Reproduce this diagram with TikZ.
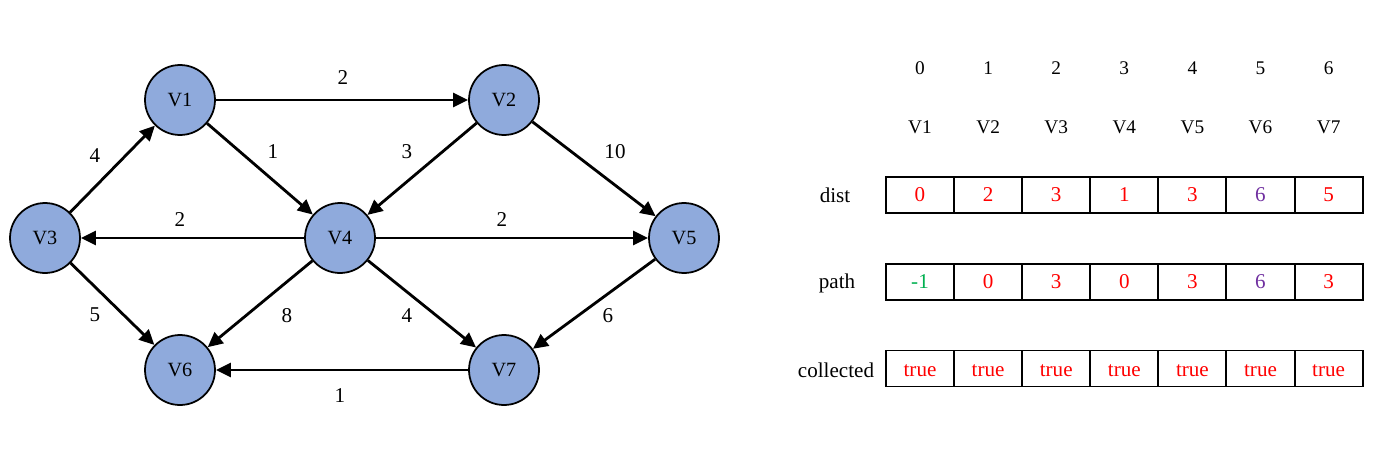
\documentclass[tikz,border=0pt]{standalone}
\usepackage{fontspec}
\setmainfont{Liberation Serif}
\usetikzlibrary{arrows.meta}
\definecolor{vfill}{HTML}{8FAADC}
\definecolor{vred}{HTML}{FF0000}
\definecolor{vpurple}{HTML}{7030A0}
\definecolor{vgreen}{HTML}{00B050}

\begin{document}
\begin{tikzpicture}[x=0.02cm,y=-0.02cm,font=\fontsize{11}{13}\selectfont,
    vertex/.style={circle,draw=black,line width=1pt,fill=vfill,minimum size=1.4cm,inner sep=0pt,font=\fontsize{11.5}{13}\selectfont},
    arc/.style={line width=1.6pt,-{Triangle[length=0.3cm,width=0.28cm]}},
    weight/.style={font=\fontsize{12}{14}\selectfont},
    cell/.style={draw=black,line width=1.1pt,minimum width=1.362cm,minimum height=0.72cm,inner sep=0pt,font=\fontsize{12}{14}\selectfont},
    flagcell/.style={cell,text=vred,text height=9.5pt,text depth=0.8pt},
    rowname/.style={font=\fontsize{12}{14}\selectfont}]
    \useasboundingbox(0,0)rectangle(1382,453);

    \node[vertex](v1)at(180,100){V1};
    \node[vertex](v2)at(504,100){V2};
    \node[vertex](v3)at(45,238){V3};
    \node[vertex](v4)at(340,238){V4};
    \node[vertex](v5)at(684,238){V5};
    \node[vertex](v6)at(180,370){V6};
    \node[vertex](v7)at(504,370){V7};

    \draw[arc](v1)--(v2);
    \draw[arc](v1)--(v4);
    \draw[arc](v2)--(v4);
    \draw[arc](v2)--(v5);
    \draw[arc](v3)--(v1);
    \draw[arc](v4)--(v3);
    \draw[arc](v4)--(v5);
    \draw[arc](v3)--(v6);
    \draw[arc](v4)--(v6);
    \draw[arc](v4)--(v7);
    \draw[arc](v5)--(v7);
    \draw[arc](v7)--(v6);

    \node[weight](w12)at(343,78){2};
    \node[weight](w14)at(273,152){1};
    \node[weight](w24)at(407,152){3};
    \node[weight](w25)at(615,152){10};
    \node[weight](w31)at(95,156){4};
    \node[weight](w43)at(180,220){2};
    \node[weight](w45)at(502,220){2};
    \node[weight](w36)at(95,315){5};
    \node[weight](w46)at(287,316){8};
    \node[weight](w47)at(407,316){4};
    \node[weight](w57)at(608,316){6};
    \node[weight](w76)at(340,396){1};

    % table
    \node[rowname](dist)at(835,195){dist};
    \node[rowname](path)at(837,283){path};
    \node[rowname](coll)at(836,370){collected};

    \foreach \i/\d/\dc/\p/\pc in {0/0/vred/-1/vgreen,1/2/vred/0/vred,2/3/vred/3/vred,3/1/vred/0/vred,4/3/vred/3/vred,5/6/vpurple/6/vpurple,6/5/vred/3/vred}{
        \pgfmathtruncatemacro{\vn}{\i+1}
        \node[](idx\i)at(920+68.1*\i,68){\i};
        \node[](nm\i)at(920+68.1*\i,127){V\vn};
        \node[cell,text=\dc](d\i)at(920+68.1*\i,195){\d};
        \node[cell,text=\pc](p\i)at(920+68.1*\i,282){\p};
        \node[flagcell](c\i)at(920+68.1*\i,368.5){true};
    }
\end{tikzpicture}
\end{document}
